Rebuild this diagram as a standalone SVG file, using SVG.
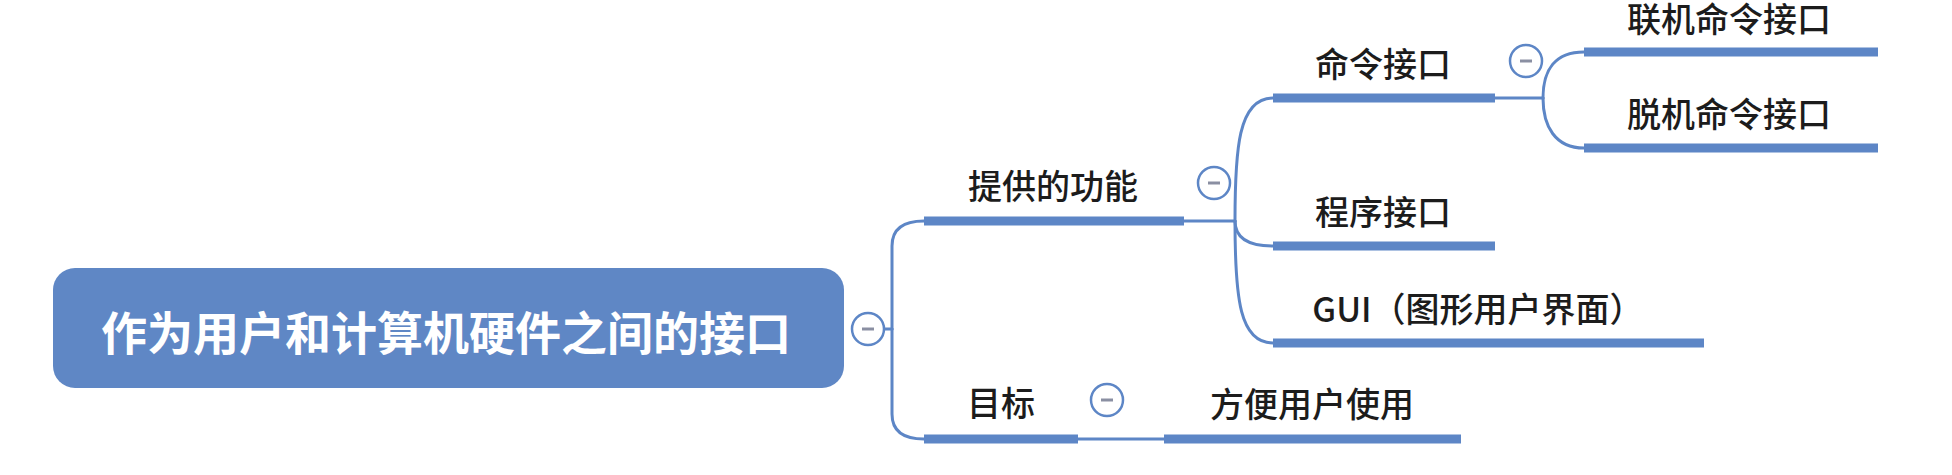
<svg xmlns="http://www.w3.org/2000/svg" width="1952" height="475" viewBox="0 0 1952 475">
<style>
.bg{fill:#ffffff}
.thin{fill:none;stroke:#5d86c6;stroke-width:3;stroke-linecap:round}
.ul{fill:none;stroke:#5d86c6;stroke-width:9;stroke-linecap:butt}
.lbl{font-family:"Noto Sans CJK SC","Noto Sans",sans-serif;font-size:34px;font-weight:500;fill:#1c1c1c;text-anchor:middle}
.root{fill:#5f87c5}
.roottxt{font-family:"Noto Sans CJK SC","Noto Sans",sans-serif;font-size:46px;font-weight:bold;fill:#ffffff;text-anchor:middle}
.cc{fill:#ffffff;stroke:#5d86c6;stroke-width:2.5}
.minus{stroke:#8a8fa2;stroke-width:3}
</style>
<rect class="bg" x="0" y="0" width="1952" height="475"/>
<g id="connectors">
<path class="thin" d="M884,329 L892,329"/>
<path class="thin" d="M892,329 L892,246 Q892,221 924,221"/>
<path class="thin" d="M892,329 L892,414 Q892,439 924,439"/>
<path class="thin" d="M1184,221 L1235,221"/>
<path class="thin" d="M1235,221 C1235,150 1238,98 1273,98"/>
<path class="thin" d="M1235,221 Q1235,246 1273,246"/>
<path class="thin" d="M1235,221 C1235,300 1240,343 1273,343"/>
<path class="thin" d="M1078,439 L1164,439"/>
<path class="thin" d="M1495,98 L1543,98"/>
<path class="thin" d="M1543,98 C1543,70 1555,52 1584,52"/>
<path class="thin" d="M1543,98 C1543,126 1555,148 1584,148"/>
</g>
<g id="root">
<rect class="root" x="53" y="268" width="791" height="120" rx="22"/>
<text class="roottxt" x="446" y="350">作为用户和计算机硬件之间的接口</text>
<circle class="cc" cx="868" cy="329" r="16"/>
<line class="minus" x1="862" y1="329" x2="874" y2="329"/>
</g>
<g id="node-gongneng">
<text class="lbl" x="1053" y="199">提供的功能</text>
<line class="ul" x1="924" y1="221" x2="1184" y2="221"/>
<circle class="cc" cx="1214" cy="183" r="16"/>
<line class="minus" x1="1208" y1="183" x2="1220" y2="183"/>
</g>
<g id="node-mingling">
<text class="lbl" x="1383" y="77">命令接口</text>
<line class="ul" x1="1273" y1="98" x2="1495" y2="98"/>
<circle class="cc" cx="1526" cy="61" r="16"/>
<line class="minus" x1="1520" y1="61" x2="1532" y2="61"/>
</g>
<g id="node-lianji">
<text class="lbl" x="1729" y="32">联机命令接口</text>
<line class="ul" x1="1584" y1="52" x2="1878" y2="52"/>
</g>
<g id="node-tuoji">
<text class="lbl" x="1729" y="127">脱机命令接口</text>
<line class="ul" x1="1584" y1="148" x2="1878" y2="148"/>
</g>
<g id="node-chengxu">
<text class="lbl" x="1383" y="225">程序接口</text>
<line class="ul" x1="1273" y1="246" x2="1495" y2="246"/>
</g>
<g id="node-gui">
<text class="lbl" x="1478" y="322">GUI（图形用户界面）</text>
<line class="ul" x1="1273" y1="343" x2="1704" y2="343"/>
</g>
<g id="node-mubiao">
<text class="lbl" x="1001" y="416">目标</text>
<line class="ul" x1="924" y1="439" x2="1078" y2="439"/>
<circle class="cc" cx="1107" cy="400" r="16"/>
<line class="minus" x1="1101" y1="400" x2="1113" y2="400"/>
</g>
<g id="node-fangbian">
<text class="lbl" x="1312" y="417">方便用户使用</text>
<line class="ul" x1="1164" y1="439" x2="1461" y2="439"/>
</g>
</svg>
